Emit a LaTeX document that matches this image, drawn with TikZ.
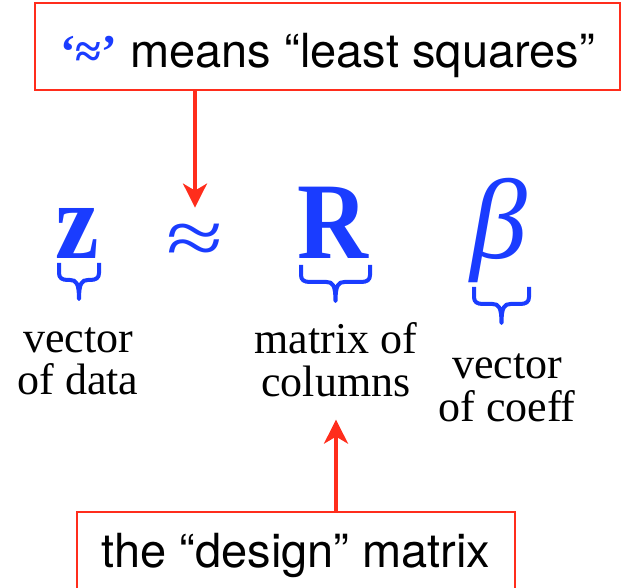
\documentclass[tikz,border=0pt]{standalone}
\usepackage{fontspec}
\usepackage{graphicx}
\setmainfont{Liberation Serif}
\setsansfont{TeX Gyre Heros}
\usetikzlibrary{arrows.meta,calc,positioning}
\definecolor{lsred}{HTML}{FF2D1C}
\definecolor{lsblue}{HTML}{1A3CFF}
\tikzset{
  ls box/.style={draw=lsred, line width=1.8pt, inner sep=0pt, text=black,
    font=\sffamily\fontsize{47}{47}\selectfont},
  ls arrow/.style={-{Stealth[length=24pt,width=24pt,inset=7pt]}, line width=3.5pt,
    draw=lsred},
  ls sym/.style={text=lsblue, inner sep=0pt, font=\fontsize{109}{109}\selectfont},
  ls label/.style={align=center, inner sep=0pt, text=black,
    font=\fontsize{44}{43}\selectfont},
  ls brace/.style={draw=lsblue, line width=4pt, line join=round},
  pics/ubrace/.style={code={
    \draw[ls brace] (-#1,0) -- (-#1,-10) .. controls (-#1,-15) and ({-#1+3},-17) .. ({-#1+9},-17)
      -- (-9,-17) .. controls (-3,-17) and (0,-20) .. (0,-36)
      .. controls (0,-20) and (3,-17) .. (9,-17) -- ({#1-9},-17)
      .. controls ({#1-3},-17) and (#1,-15) .. (#1,-10) -- (#1,0);
  }}
}

\begin{document}
\begin{tikzpicture}[x=1pt, y=1pt]
  \useasboundingbox (0,0) rectangle (624,587);
  % boxes
  \node[ls box, minimum width=585pt, text height=65pt, text depth=22pt] (lsq) at (327.5,540.5)
    {{\color{lsblue}\rmfamily\bfseries ‘≈’} means “least squares”};
  \node[ls box, minimum width=438pt, text height=55pt, text depth=30pt] (design) at (296,32.5)
    {the “design” matrix};
  % the equation
  \node[ls sym, anchor=base] (vz) at (77,328) {\scalebox{0.9}[1]{\bfseries z}};
  \node[ls sym] (approx) at (195,343) {\scalebox{0.95}[0.72]{≈}};
  \node[ls sym, anchor=base] (mR) at (333,328) {\scalebox{0.9}[1]{\bfseries R}};
  \node[ls sym, anchor=base, font=\fontsize{114}{114}\selectfont] (coef) at (499,328)
    {\itshape β};
  \pic at (79,324) {ubrace=20};
  \pic at (335.5,322) {ubrace=34.5};
  \pic at (501.5,300) {ubrace=27.5};
  % labels
  \node[ls label, anchor=base] (zlbl) at (78,192) {vector\\of data};
  \node[ls label, anchor=base] (Rlbl) at (336,190) {matrix of\\columns};
  \node[ls label, anchor=base] (blbl) at (507,166) {vector\\of coeff};
  % arrows
  \draw[ls arrow, shorten >=16pt] (lsq.south -| approx) -- (approx.north);
  \draw[ls arrow, shorten >=22pt] (design.north -| Rlbl) -- (Rlbl.south);
\end{tikzpicture}
\end{document}
